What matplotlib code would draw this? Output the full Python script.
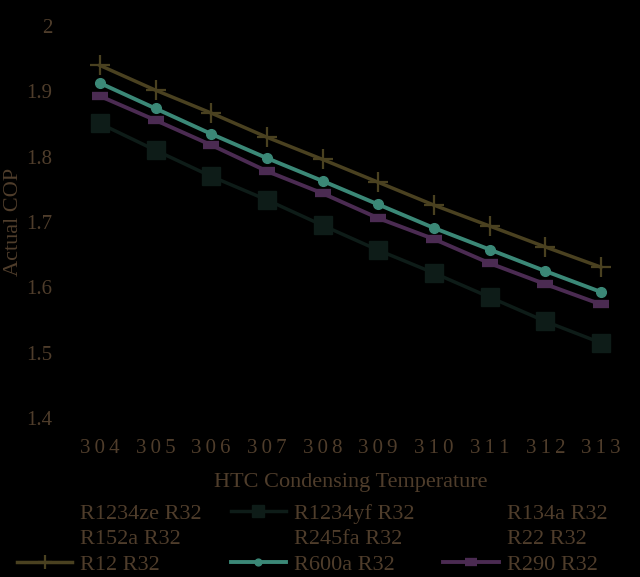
import numpy as np
import matplotlib.pyplot as plt

temps = [304, 305, 306, 307, 308, 309, 310, 311, 312, 313]
tick_labels = ['\u2009'.join(str(t)) for t in temps]

cop_r12 = [1.940, 1.902, 1.867, 1.830, 1.796, 1.761, 1.726, 1.694, 1.662, 1.631]
cop_r600a = [1.913, 1.874, 1.835, 1.798, 1.763, 1.727, 1.691, 1.658, 1.625, 1.593]
cop_r290 = [1.893, 1.856, 1.818, 1.778, 1.744, 1.706, 1.674, 1.637, 1.605, 1.574]
cop_r1234yf = [1.851, 1.810, 1.770, 1.734, 1.695, 1.657, 1.622, 1.585, 1.548, 1.515]

bg = 'black'
txt = '#4f3d2b'
serif = 'Liberation Serif'

fig = plt.figure(figsize=(6.4, 5.77), dpi=100, facecolor=bg)
ax = fig.add_axes([0.1125, 0.2756, 0.870, 0.679], facecolor=bg)

# series drawn in black on black: only their legend text shows
hidden = {}
for name in ['R1234ze R32', 'R134a R32', 'R152a R32', 'R245fa R32', 'R22 R32']:
    hidden[name], = ax.plot([], [], color=bg, lw=2.5, label=name)

l_yf, = ax.plot(temps, cop_r1234yf, color='#0e1c18', lw=2.5, marker='s', ms=13,
                label='R1234yf R32')
l_290, = ax.plot(temps, cop_r290, color='#4b2b52', lw=2.8, marker='_', ms=12,
                 mew=6, label='R290 R32')
l_600, = ax.plot(temps, cop_r600a, color='#3b8877', lw=2.8, marker='o', ms=7,
                 label='R600a R32')
l_12, = ax.plot(temps, cop_r12, color='#4a4120', lw=2.5, marker='+', ms=14,
                mew=1.6, label='R12 R32')

ax.set_xlim(303.5, 313.5)
ax.set_ylim(1.4, 2.0)
ax.set_xticks(temps)
ax.set_xticklabels(tick_labels)
ax.set_yticks([1.4, 1.5, 1.6, 1.7, 1.8, 1.9, 2.0])
ax.set_yticklabels(['1.4', '1.5', '1.6', '1.7', '1.8', '1.9', '2'])
for s in ax.spines.values():
    s.set_visible(False)
ax.tick_params(axis='both', length=0, colors=txt, labelsize=15)
ax.tick_params(axis='x', pad=15)
ax.tick_params(axis='y', pad=14)
for lab in ax.get_xticklabels() + ax.get_yticklabels():
    lab.set_family(serif)

ax.set_xlabel('HTC Condensing Temperature', color=txt, fontsize=16,
              family=serif, labelpad=11)
ax.set_ylabel('Actual COP', color=txt, fontsize=16, family=serif)
ax.yaxis.set_label_coords(-0.088, 0.5)

handles = [hidden['R1234ze R32'], hidden['R152a R32'], l_12,
           l_yf, hidden['R245fa R32'], l_600,
           hidden['R134a R32'], hidden['R22 R32'], l_290]
leg = fig.legend(handles=handles, labels=[h.get_label() for h in handles],
                 loc='upper center', bbox_to_anchor=(312 / 640, 1 - 492 / 577),
                 ncol=3, frameon=False, handlelength=2.5, handletextpad=0.35,
                 columnspacing=1.3, labelspacing=0.22, borderpad=0,
                 markerscale=0.7, prop={'family': serif, 'size': 16})
for t in leg.get_texts():
    t.set_color(txt)

fig.savefig('out.png', dpi=100, facecolor=bg)
